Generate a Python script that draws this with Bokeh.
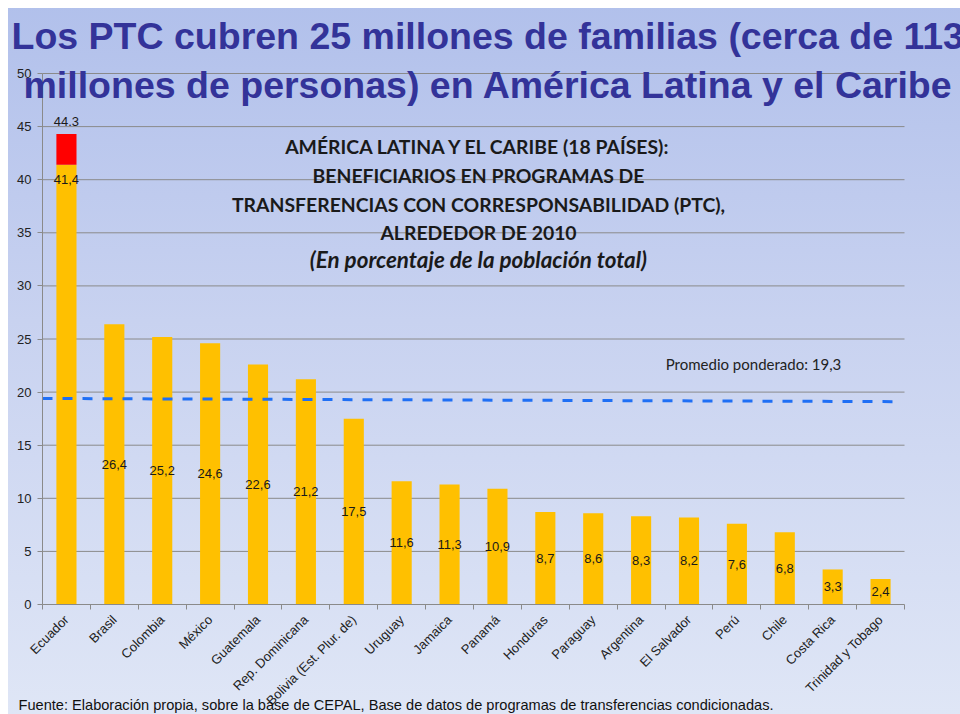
import math
from bokeh.plotting import figure
from bokeh.models import FixedTicker, CustomJSTickFormatter, Label, ColumnDataSource, Range1d
from bokeh.core.properties import value
from bokeh.embed import file_html
from bokeh.resources import INLINE

# ---------------- data ----------------
categories = ["Ecuador", "Brasil", "Colombia", "México", "Guatemala", "Rep. Dominicana",
              "Bolivia (Est. Plur. de)", "Uruguay", "Jamaica", "Panamá", "Honduras",
              "Paraguay", "Argentina", "El Salvador", "Perú", "Chile", "Costa Rica",
              "Trinidad y Tobago"]
values = [41.4, 26.4, 25.2, 24.6, 22.6, 21.2, 17.5, 11.6, 11.3, 10.9, 8.7, 8.6, 8.3,
          8.2, 7.6, 6.8, 3.3, 2.4]
ecuador_total = 44.3
promedio_label = 19.3
promedio_line = [19.4, 19.1]   # drawn line, slightly sloped as in the picture
y_ticks = [0, 5, 10, 15, 20, 25, 30, 35, 40, 45, 50]

title_lines = ["Los PTC cubren 25 millones de familias (cerca de 113",
               "millones de personas) en América Latina y el Caribe"]
inner_title = ["AMÉRICA LATINA Y EL CARIBE (18 PAÍSES):",
               "BENEFICIARIOS EN PROGRAMAS DE",
               "TRANSFERENCIAS CON CORRESPONSABILIDAD (PTC),",
               "ALREDEDOR DE 2010"]
inner_subtitle = "(En porcentaje de la población total)"
promedio_text = "Promedio ponderado: 19,3"
footer = ("Fuente: Elaboración propia, sobre la base de CEPAL, Base de datos de "
          "programas de transferencias condicionadas.")

# ---------------- layout (page pixels) ----------------
W, H = 960, 714
PX0, PX1 = 42, 904      # x data 0 .. n
PY0, PY50 = 604, 73     # y data 0 .. 50
n = len(categories)
ppx = (PX1 - PX0) / n
ppy = (PY0 - PY50) / 50.0

def dx(px):
    return (px - PX0) / ppx

def dy(py):
    return (PY0 - py) / ppy

p = figure(width=W, height=H, output_backend="svg", toolbar_location=None,
           x_range=Range1d(dx(0), dx(W)), y_range=Range1d(dy(H), dy(0)),
           min_border_left=0, min_border_right=0, min_border_top=0, min_border_bottom=0)
p.background_fill_alpha = 0
p.border_fill_alpha = 0
p.outline_line_color = None
p.styles = {"background": ("linear-gradient(to bottom, #ffffff 0px, #ffffff 8px, transparent 8px), "
                           "linear-gradient(to right, #ffffff 0px, #ffffff 8px, transparent 8px), "
                           "linear-gradient(180deg, #b1c0eb 0%, #c8d2f0 45%, #dfe6f6 100%)")}

centers = [i + 0.5 for i in range(n)]
src = ColumnDataSource(dict(x=centers, top=values))

# grid lines (only across the plotting area)
p.xgrid.visible = False
p.ygrid.visible = False
p.segment(x0=[0] * (len(y_ticks) - 1), x1=[n] * (len(y_ticks) - 1),
          y0=y_ticks[1:], y1=y_ticks[1:], line_color="#8a8a8a", line_width=1,
          level="underlay")

# bars
p.vbar(x="x", top="top", bottom=0, width=0.42, source=src,
       fill_color="#FFC000", line_color=None)
p.vbar(x=[centers[0]], bottom=[values[0]], top=[ecuador_total], width=0.42,
       fill_color="#FF0000", line_color=None)

# bar labels (centered), Ecuador at inside end
fmt = lambda v: f"{v:.1f}".replace(".", ",")
lab_src = ColumnDataSource(dict(x=centers[1:], y=[v / 2 for v in values[1:]],
                                t=[fmt(v) for v in values[1:]]))
lab_kw = dict(text_align="center", text_baseline="middle",
              text_font=value("Liberation Sans"), text_font_size="13px",
              text_color="#1a1a1a")
p.text(x="x", y="y", text="t", source=lab_src, **lab_kw)
p.text(x=[centers[0]], y=[values[0] - 1.4], text=[fmt(values[0])], **lab_kw)
p.text(x=[centers[0]], y=[ecuador_total + 1.2], text=[f"{ecuador_total:.1f}"], **lab_kw)

# weighted average dashed line
p.line(x=[0, n - 0.12], y=promedio_line, line_color="#1f6ff5", line_width=3,
       line_dash="10 10")

# axes at fixed locations inside the full-canvas frame
ya = p.yaxis[0]
ya.fixed_location = 0
ya.bounds = (0, 50)
ya.ticker = FixedTicker(ticks=y_ticks)
ya.axis_line_color = "#8a8a8a"
ya.major_tick_line_color = "#8a8a8a"
ya.major_tick_out = 5
ya.major_tick_in = 0
ya.minor_tick_line_color = None
ya.major_label_standoff = 6
ya.major_label_text_font = "Liberation Sans"
ya.major_label_text_font_size = "13px"
ya.major_label_text_color = "#222222"

xa = p.xaxis[0]
xa.fixed_location = 0
xa.bounds = (0, n)
xa.ticker = FixedTicker(ticks=centers, minor_ticks=list(range(n + 1)))
xa.formatter = CustomJSTickFormatter(args=dict(names=categories),
                                     code="return names[Math.floor(tick)];")
xa.axis_line_color = "#8a8a8a"
xa.major_tick_line_color = None
xa.major_tick_out = 0
xa.major_tick_in = 0
xa.minor_tick_line_color = "#8a8a8a"
xa.minor_tick_out = 5
xa.minor_tick_in = 0
xa.major_label_orientation = math.pi / 4
xa.major_label_standoff = 8
xa.major_label_text_font = "Liberation Sans"
xa.major_label_text_font_size = "13px"
xa.major_label_text_color = "#222222"

# titles
for t, x0, y0 in zip(title_lines, [11, 23], [35, 84]):
    p.add_layout(Label(x=dx(x0), y=dy(y0), text=t, text_align="left",
                       text_baseline="middle", text_font="Liberation Sans",
                       text_font_style="bold", text_font_size="37.5px",
                       text_color="#333399"))

for t, y0 in zip(inner_title, [146, 175, 204, 232]):
    p.add_layout(Label(x=dx(478), y=dy(y0), text=t, text_align="center",
                       text_baseline="middle", text_font="Lato",
                       text_font_style="bold", text_font_size="19.4px",
                       text_color="#1a1a1a"))
p.add_layout(Label(x=dx(478), y=dy(259), text=inner_subtitle, text_align="center",
                   text_baseline="middle", text_font="Lato",
                   text_font_style="bold italic", text_font_size="22.4px",
                   text_color="#1a1a1a"))

p.add_layout(Label(x=dx(753), y=dy(363), text=promedio_text, text_align="center",
                   text_baseline="middle", text_font="Lato", text_font_size="15px",
                   text_color="#222222"))

p.add_layout(Label(x=dx(18), y=dy(704), text=footer, text_align="left",
                   text_baseline="middle", text_font="Liberation Sans",
                   text_font_size="14.6px", text_color="#111111"))

open("out.html", "w").write(file_html(p, INLINE))
